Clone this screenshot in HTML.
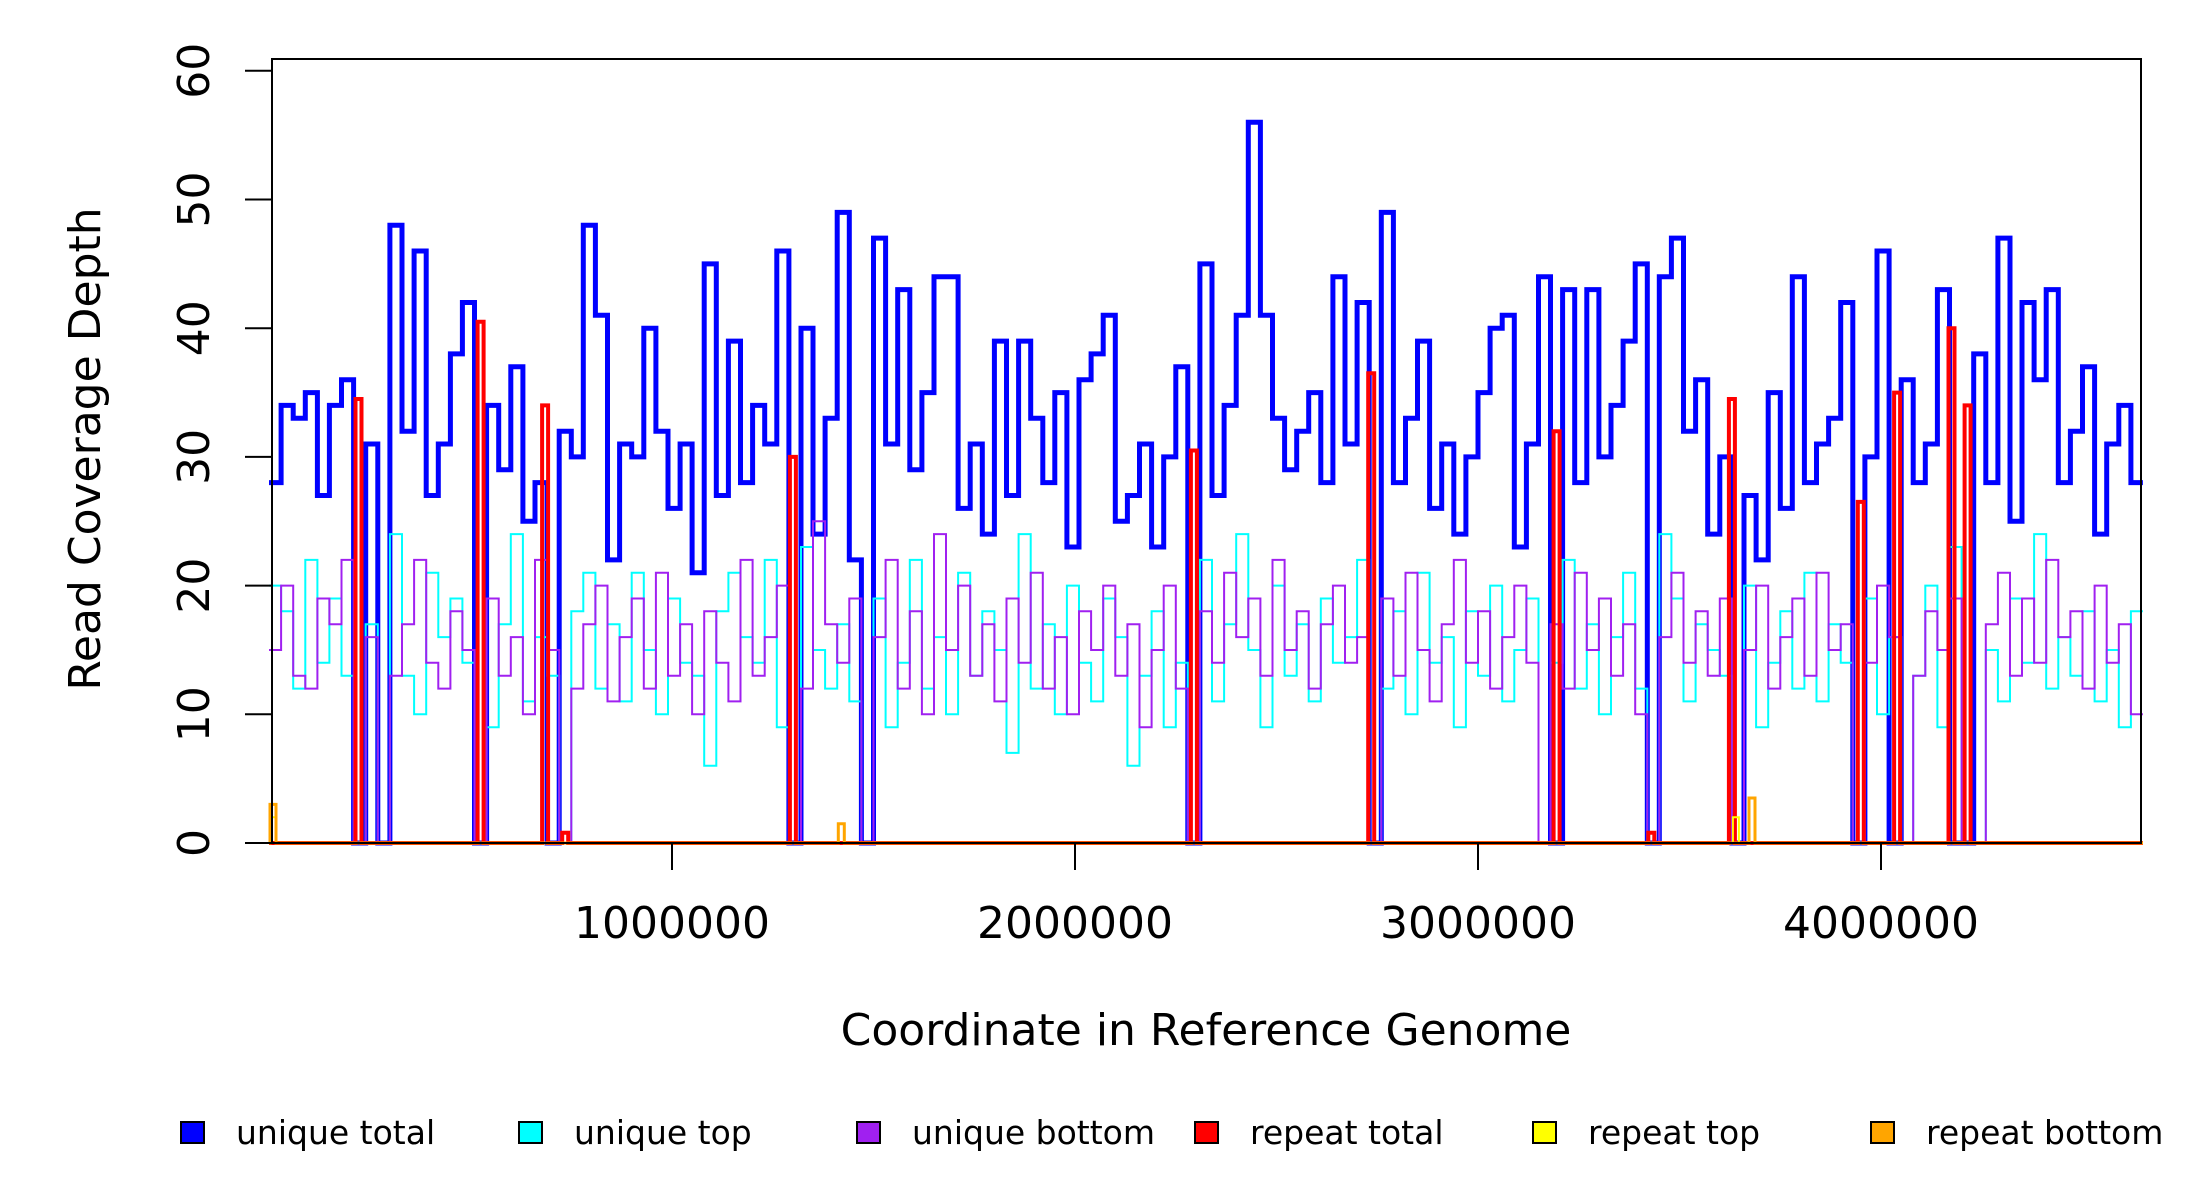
<!DOCTYPE html>
<html><head><meta charset="utf-8"><style>
html,body{margin:0;padding:0;background:#fff;}
svg{display:block;font-family:"DejaVu Sans","Liberation Sans",sans-serif;}
</style></head>
<body>
<svg id="chart" width="2200" height="1200" viewBox="0 0 2200 1200">
<rect x="0" y="0" width="2200" height="1200" fill="#fff"/>
<g id="series"></g>
<rect x="272" y="59" width="1869" height="784" fill="none" stroke="#000" stroke-width="2"/>
<g id="axes"></g>
<text x="100" y="449" font-size="44" text-anchor="middle" transform="rotate(-90 100 449)">Read Coverage Depth</text>
<text x="1206" y="1045" font-size="44" text-anchor="middle">Coordinate in Reference Genome</text>
<g id="legend"></g>
</svg>
<script>
const binWidth = 30000;
const yTicks = [0,10,20,30,40,50,60];
const xTicks = [1000000,2000000,3000000,4000000];
const uniqueTotal = [28,34,33,35,27,34,36,0,31,0, 48,32,46,27,31,38,42,0,34,29, 37,25,28,0,32,30,48,41,22,31, 30,40,32,26,31,21,45,27,39,28, 34,31,46,0,40,24,33,49,22,0, 47,31,43,29,35,44,44,26,31,24, 39,27,39,33,28,35,23,36,38,41, 25,27,31,23,30,37,0,45,27,34, 41,56,41,33,29,32,35,28,44,31, 42,0,49,28,33,39,26,31,24,30, 35,40,41,23,31,44,0,43,28,43, 30,34,39,45,0,44,47,32,36,24, 30,0,27,22,35,26,44,28,31,33, 42,0,30,46,0,36,28,31,43,0, 0,38,28,47,25,42,36,43,28,32, 37,24,31,34,28];
const uniqueTop = [20,18,12,22,14,19,13,0,17,0, 24,13,10,21,16,19,14,0,9,17, 24,11,16,13,0,18,21,12,17,11, 21,15,10,19,14,13,6,18,21,16, 14,22,9,0,23,15,12,17,11,0, 19,9,14,22,12,16,10,21,13,18, 15,7,24,12,17,10,20,14,11,19, 16,6,13,18,9,14,0,22,11,17, 24,15,9,20,13,17,11,19,14,16, 22,0,12,18,10,21,14,16,9,18, 13,20,11,15,19,0,14,22,12,17, 10,16,21,12,0,24,19,11,17,15, 13,0,20,9,14,18,12,21,11,17, 14,0,19,10,16,0,13,20,9,23, 0,0,15,11,19,14,24,12,16,13, 18,11,15,9,18];
const uniqueBottom = [15,20,13,12,19,17,22,0,16,0, 13,17,22,14,12,18,15,0,19,13, 16,10,22,15,0,12,17,20,11,16, 19,12,21,13,17,10,18,14,11,22, 13,16,20,0,12,25,17,14,19,0, 16,22,12,18,10,24,15,20,13,17, 11,19,14,21,12,16,10,18,15,20, 13,17,9,15,20,12,0,18,14,21, 16,19,13,22,15,18,12,17,20,14, 16,0,19,13,21,15,11,17,22,14, 18,12,16,20,14,0,17,12,21,15, 19,13,17,10,0,16,21,14,18,13, 19,0,15,20,12,16,19,13,21,15, 17,0,14,20,16,0,13,18,15,19, 0,0,17,21,13,19,14,22,16,18, 12,20,14,17,10];
const repeatTotalPos = [222000,525000,685000,735000,1300000,2295000,2735000,3195000,3430000,3630000,3950000,4040000,4175000,4215000];
const repeatTotalVals = [34.5,40.5,34,0.8,30,30.5,36.5,32,0.8,34.5,26.5,35,40,34];
const repeatTopPos = [10000,3640000];
const repeatTopVals = [2,2];
const repeatBottomPos = [10000,1420000,3680000];
const repeatBottomVals = [3,1.5,3.5];
const legendLabels = ["unique total","unique top","unique bottom","repeat total","repeat top","repeat bottom"];
const legendColors = ["#0000ff","#00ffff","#a020f0","#ff0000","#ffff00","#ffa500"];

const NS = "http://www.w3.org/2000/svg";
function xs(v){ return 269 + v*403/1e6; }
function ys(v){ return 843 - v*12.87; }
function stepPath(arr){
  let d = "M"+xs(0).toFixed(1)+","+ys(arr[0]).toFixed(1);
  for(let i=0;i<arr.length;i++){
    if(i>0) d += "V"+ys(arr[i]).toFixed(1);
    d += "H"+xs((i+1)*binWidth).toFixed(1);
  }
  return d;
}
function spikePath(pos, vals){
  let d = "M"+xs(0).toFixed(1)+","+ys(0);
  const order = pos.map((p,i)=>i).sort((a,b)=>pos[a]-pos[b]);
  order.forEach(i=>{
    const x = xs(pos[i]);
    d += "H"+(x-3).toFixed(1)+"V"+ys(vals[i]).toFixed(1)+"H"+(x+3).toFixed(1)+"V"+ys(0);
  });
  d += "H"+xs(4650000).toFixed(1);
  return d;
}
const seriesG = document.getElementById("series");
function addPath(d, color, w, name){
  const p = document.createElementNS(NS,"path");
  p.setAttribute("d", d);
  p.setAttribute("fill","none");
  p.setAttribute("stroke",color);
  p.setAttribute("stroke-width",w);
  
  
  seriesG.appendChild(p);
}
addPath(stepPath(uniqueTotal),"#0000ff",5,"unique-total-line");
addPath(stepPath(uniqueTop),"#00ffff",2,"unique-top-line");
addPath(stepPath(uniqueBottom),"#a020f0",2,"unique-bottom-line");
addPath(spikePath(repeatTotalPos,repeatTotalVals),"#ff0000",4,"repeat-total-line");
addPath(spikePath(repeatTopPos,repeatTopVals),"#ffff00",2,"repeat-top-line");
addPath(spikePath(repeatBottomPos,repeatBottomVals),"#ffa500",3,"repeat-bottom-line");

const axesG = document.getElementById("axes");
yTicks.forEach(v=>{
  const l = document.createElementNS(NS,"line");
  l.setAttribute("x1",245); l.setAttribute("x2",272);
  l.setAttribute("y1",ys(v)); l.setAttribute("y2",ys(v));
  l.setAttribute("stroke","#000"); l.setAttribute("stroke-width",2);
  
  
  axesG.appendChild(l);
  const t = document.createElementNS(NS,"text");
  t.setAttribute("x",209); t.setAttribute("y",ys(v));
  t.setAttribute("font-size",44); t.setAttribute("text-anchor","middle");
  t.setAttribute("transform","rotate(-90 209 "+ys(v)+")");
  t.textContent = v;
  
  
  axesG.appendChild(t);
});
xTicks.forEach(v=>{
  const l = document.createElementNS(NS,"line");
  l.setAttribute("x1",xs(v)); l.setAttribute("x2",xs(v));
  l.setAttribute("y1",843); l.setAttribute("y2",870);
  l.setAttribute("stroke","#000"); l.setAttribute("stroke-width",2);
  
  
  axesG.appendChild(l);
  const t = document.createElementNS(NS,"text");
  t.setAttribute("x",xs(v)); t.setAttribute("y",938);
  t.setAttribute("font-size",44); t.setAttribute("text-anchor","middle");
  t.textContent = v;
  
  
  axesG.appendChild(t);
});
const legG = document.getElementById("legend");
const boxX = [181,519,857,1195,1533,1871];
legendLabels.forEach((lab,i)=>{
  const r = document.createElementNS(NS,"rect");
  r.setAttribute("x",boxX[i]); r.setAttribute("y",1122);
  r.setAttribute("width",23); r.setAttribute("height",21);
  r.setAttribute("fill",legendColors[i]); r.setAttribute("stroke","#000"); r.setAttribute("stroke-width",2);
  
  
  legG.appendChild(r);
  const t = document.createElementNS(NS,"text");
  t.setAttribute("x",boxX[i]+55); t.setAttribute("y",1144);
  t.setAttribute("font-size",33);
  t.textContent = lab;
  
  
  legG.appendChild(t);
});
</script>
</body></html>
